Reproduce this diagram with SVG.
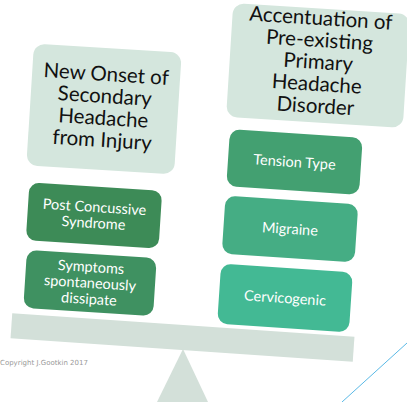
<svg xmlns="http://www.w3.org/2000/svg" width="407" height="402" viewBox="0 0 407 402">
<style>
.big{fill:#d4e6dd}
.t{font-family:Lato,"Liberation Sans",sans-serif;text-anchor:middle}
.bt{font-size:20.5px;fill:#111}
.st{font-size:14.5px;fill:#fff}
</style>
<rect width="407" height="402" fill="#fff"/>
<polygon points="183,349 157,402 208,402" fill="#d3e0d9"/>
<line x1="342" y1="402" x2="407" y2="343" stroke="#5ab9e6" stroke-width="1"/>
<text x="0" y="365" font-family="'DejaVu Sans',sans-serif" font-size="7" fill="#999">Copyright J.Gootkin 2017</text>
<g id="beam" transform="rotate(3.9 182.5 337.5)"><rect x="11" y="325" width="343" height="25" fill="#d3e0d9"/></g>
<g id="left-head" transform="rotate(3.6 104 109)">
<rect class="big" x="30" y="48" width="148" height="122" rx="11"/>
<text class="t bt" x="104" y="81">New Onset of</text>
<text class="t bt" x="104" y="103">Secondary</text>
<text class="t bt" x="104" y="125">Headache</text>
<text class="t bt" x="104" y="147">from Injury</text>
</g>
<g id="post" transform="rotate(3.7 94 215.5)">
<rect x="27.5" y="186.5" width="133" height="58" rx="10" fill="#3d8b57"/>
<text class="t st" x="94" y="212">Post Concussive</text>
<text class="t st" x="94" y="228">Syndrome</text>
</g>
<g id="symptoms" transform="rotate(3.7 90 283)">
<rect x="25" y="254" width="130" height="58" rx="10" fill="#3f9161"/>
<text class="t st" x="90" y="272">Symptoms</text>
<text class="t st" x="90" y="288">spontaneously</text>
<text class="t st" x="90" y="304">dissipate</text>
</g>
<g id="right-head" transform="rotate(3.6 318 65.5)">
<rect class="big" x="229.5" y="8.5" width="177" height="114" rx="11"/>
<text class="t bt" x="318" y="25">Accentuation of</text>
<text class="t bt" x="318" y="47">Pre-existing</text>
<text class="t bt" x="318" y="69">Primary</text>
<text class="t bt" x="318" y="91">Headache</text>
<text class="t bt" x="318" y="113">Disorder</text>
</g>
<g id="tension" transform="rotate(3.8 294.5 162)">
<rect x="228" y="133.5" width="133" height="57" rx="10" fill="#43a071"/>
<text class="t st" x="294.5" y="167">Tension Type</text>
</g>
<g id="migraine" transform="rotate(3.8 290 229)">
<rect x="223.5" y="200" width="133" height="58" rx="10" fill="#45ad84"/>
<text class="t st" x="290" y="234">Migraine</text>
</g>
<g id="cervicogenic" transform="rotate(3.8 285 298)">
<rect x="219" y="268" width="132" height="60" rx="10" fill="#43b994"/>
<text class="t st" x="285" y="303">Cervicogenic</text>
</g>
</svg>
